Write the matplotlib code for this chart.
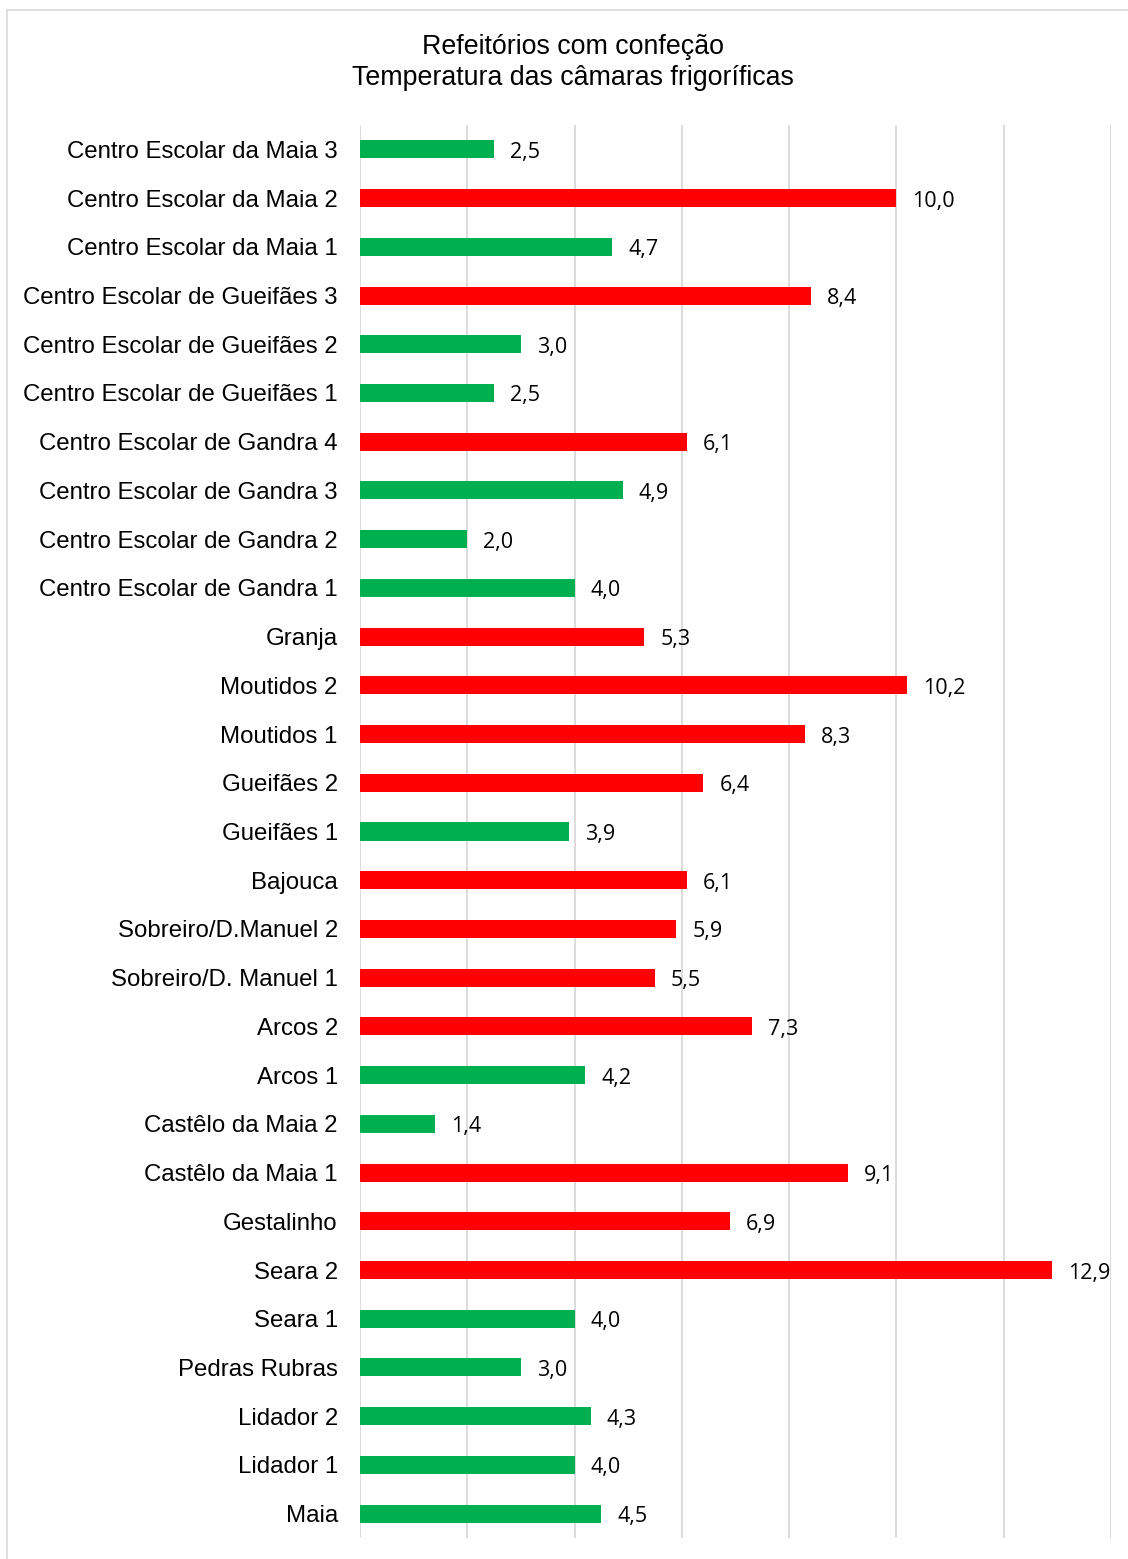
import matplotlib
matplotlib.use("Agg")
import matplotlib.pyplot as plt
from matplotlib.patches import Rectangle

categories = [
    "Centro Escolar da Maia 3", "Centro Escolar da Maia 2", "Centro Escolar da Maia 1",
    "Centro Escolar de Gueifães 3", "Centro Escolar de Gueifães 2", "Centro Escolar de Gueifães 1",
    "Centro Escolar de Gandra 4", "Centro Escolar de Gandra 3", "Centro Escolar de Gandra 2",
    "Centro Escolar de Gandra 1", "Granja", "Moutidos 2", "Moutidos 1", "Gueifães 2",
    "Gueifães 1", "Bajouca", "Sobreiro/D.Manuel 2", "Sobreiro/D. Manuel 1", "Arcos 2",
    "Arcos 1", "Castêlo da Maia 2", "Castêlo da Maia 1", "Gestalinho", "Seara 2",
    "Seara 1", "Pedras Rubras", "Lidador 2", "Lidador 1", "Maia",
]
values = [2.5, 10.0, 4.7, 8.4, 3.0, 2.5, 6.1, 4.9, 2.0, 4.0, 5.3, 10.2, 8.3, 6.4,
          3.9, 6.1, 5.9, 5.5, 7.3, 4.2, 1.4, 9.1, 6.9, 12.9, 4.0, 3.0, 4.3, 4.0, 4.5]
colors_flag = ["g", "r", "g", "r", "g", "g", "r", "g", "g", "g", "r", "r", "r", "r",
               "g", "r", "r", "r", "r", "g", "g", "r", "r", "r", "g", "g", "g", "g", "g"]
title_lines = ["Refeitórios com confeção", "Temperatura das câmaras frigoríficas"]

GREEN = "#00B050"
RED = "#FF0000"

W, H = 1128, 1559
fig = plt.figure(figsize=(W / 100, H / 100), dpi=100)
fig.patch.set_facecolor("white")

# outer chart border (extends beyond right and bottom edges)
fig.patches.append(Rectangle((7 / W, -0.1), 1.2, 1.1 - 10 / H,
                             transform=fig.transFigure, fill=False,
                             edgecolor="#D9D9D9", linewidth=1.2))

left, right, top, bottom = 360, 1111, 125, 1538
ax = fig.add_axes([left / W, 1 - bottom / H, (right - left) / W, (bottom - top) / H])

n = len(categories)
ypos = list(range(n - 1, -1, -1))
cols = [GREEN if c == "g" else RED for c in colors_flag]
ax.barh(ypos, values, height=0.37, color=cols, zorder=3)

ax.set_xlim(0, 14)
ax.set_ylim(-0.5, n - 0.5)
ax.set_xticks(range(0, 15, 2))
ax.tick_params(axis="x", length=0, labelbottom=False)
ax.grid(axis="x", color="#D9D9D9", linewidth=1.3, zorder=0)
ax.set_yticks(ypos)
ax.set_yticklabels(categories, fontsize=17.3, family=["Liberation Sans", "DejaVu Sans"])
ax.tick_params(axis="y", length=0, pad=16)
for s in ax.spines.values():
    s.set_visible(False)

for y, v in zip(ypos, values):
    ax.annotate(f"{v:.1f}".replace(".", ","), (v, y), xytext=(16, -3),
                textcoords="offset pixels",
                va="center", ha="left", fontsize=15.5, family="Open Sans", zorder=4)

fig.text(573 / W, 1 - 47 / H, title_lines[0], ha="center", va="center",
         fontsize=19.3, family="Liberation Sans")
fig.text(573 / W, 1 - 78 / H, title_lines[1], ha="center", va="center",
         fontsize=19.3, family="Liberation Sans")

fig.savefig("out.png", dpi=100)
